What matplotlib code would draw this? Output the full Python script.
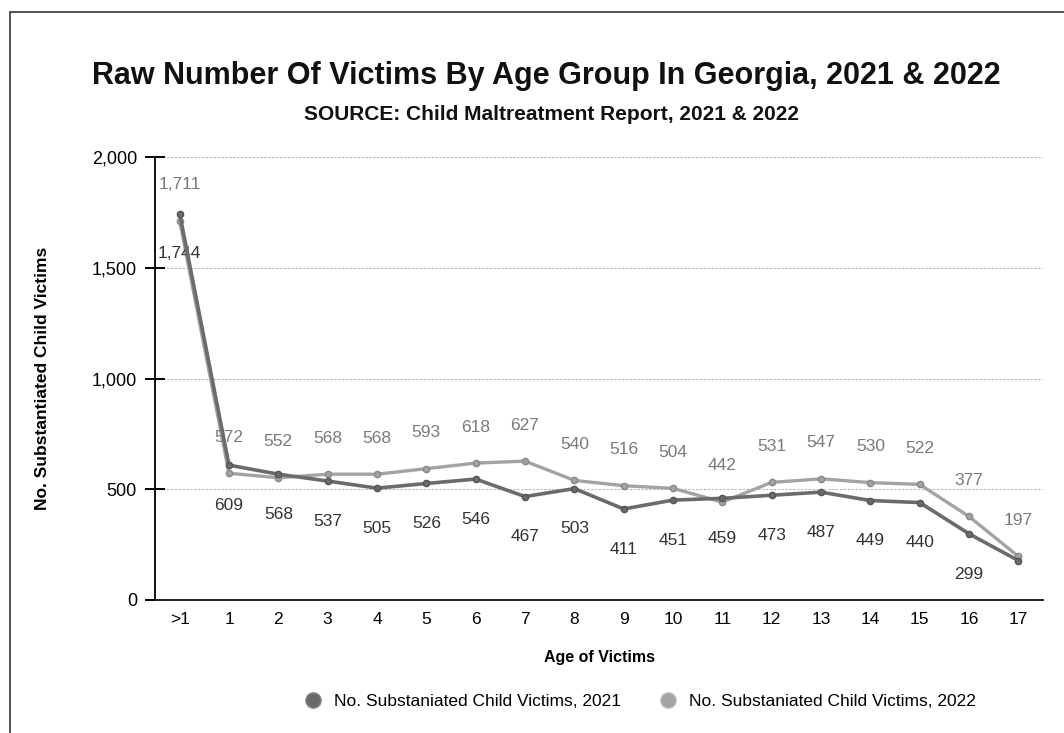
import matplotlib.pyplot as plt
from matplotlib.patches import Rectangle

plt.rcParams['font.family'] = ['Liberation Sans', 'DejaVu Sans']

# ------------------------------------------------------------------
# Data: substantiated child victims by age, Georgia
# ------------------------------------------------------------------
ages = ['>1', '1', '2', '3', '4', '5', '6', '7', '8', '9', '10',
        '11', '12', '13', '14', '15', '16', '17']
victims_2021 = [1744, 609, 568, 537, 505, 526, 546, 467, 503, 411, 451,
                459, 473, 487, 449, 440, 299, 178]
victims_2022 = [1711, 572, 552, 568, 568, 593, 618, 627, 540, 516, 504,
                442, 531, 547, 530, 522, 377, 197]
# the 2021 value at age 17 has no printed label in the source
show_2021_label = [True] * 17 + [False]

c21 = '#6b6b6b'
c22 = '#a3a3a3'

# ------------------------------------------------------------------
# Figure layout
# ------------------------------------------------------------------
fig = plt.figure(figsize=(10.64, 7.33), dpi=100)
ax = fig.add_axes([155 / 1064, 1 - 600 / 733, (1043 - 155) / 1064, (600 - 157) / 733])

# scanned page frame
fig.patches.append(Rectangle((10 / 1064, -0.1), 1.2, 1 - 12 / 733 + 0.1,
                             transform=fig.transFigure, fill=False,
                             edgecolor='#333333', linewidth=1.2))

x = list(range(len(ages)))
ax.plot(x, victims_2022, color=c22, lw=2.4, marker='o', ms=4.5,
        mfc=c22, mec='#888888', zorder=3)
ax.plot(x, victims_2021, color=c21, lw=2.6, marker='o', ms=4.5,
        mfc=c21, mec='#555555', zorder=4)

for xi, v in zip(x, victims_2022):
    ax.annotate(f'{v:,}', (xi, v), xytext=(0, 26), textcoords='offset points',
                ha='center', va='center', fontsize=12.5, color='#7a7a7a')
for xi, v, show in zip(x, victims_2021, show_2021_label):
    if show:
        ax.annotate(f'{v:,}', (xi, v), xytext=(0, -29), textcoords='offset points',
                    ha='center', va='center', fontsize=12.5, color='#333333')

# ------ Axes styling --------
ax.set_xlim(-0.5, len(ages) - 0.5)
ax.set_ylim(0, 2000)
ax.set_xticks(x)
ax.set_xticklabels(ages)
ax.set_yticks([0, 500, 1000, 1500, 2000])
ax.set_yticklabels(['0', '500', '1,000', '1,500', '2,000'])
ax.yaxis.grid(True, color='#b5b5b5', linestyle=(0, (2, 1.5)), linewidth=0.8)
ax.set_axisbelow(True)
for side in ['top', 'right']:
    ax.spines[side].set_visible(False)
ax.spines['left'].set_color('#111111')
ax.spines['left'].set_linewidth(1.4)
ax.spines['bottom'].set_color('#222222')
ax.spines['bottom'].set_linewidth(1.4)
ax.tick_params(axis='y', labelsize=13, length=14, width=1.4, direction='inout', pad=6)
ax.tick_params(axis='x', labelsize=12.5, length=0, pad=9)

ax.set_xlabel('Age of Victims', fontsize=11.5, fontweight='bold', labelpad=16)
ax.set_ylabel('No. Substantiated Child Victims', fontsize=12.5, fontweight='bold', labelpad=30)

# ------ Titles --------
fig.text(546 / 1064, 1 - 76 / 733, 'Raw Number Of Victims By Age Group In Georgia, 2021 & 2022',
         ha='center', va='center', fontsize=22, fontweight='bold', color='#111111')
fig.text(551 / 1064, 1 - 115 / 733, 'SOURCE: Child Maltreatment Report, 2021 & 2022',
         ha='center', va='center', fontsize=15, fontweight='bold', color='#111111')

# ------ Legend --------
leg = fig.legend(handles=[
    plt.Line2D([], [], ls='none', marker='o', ms=11, mfc=c21, mec='#888888',
               label='No. Substaniated Child Victims, 2021'),
    plt.Line2D([], [], ls='none', marker='o', ms=11, mfc=c22, mec='#bbbbbb',
               label='No. Substaniated Child Victims, 2022')],
    loc='center', bbox_to_anchor=(636 / 1064, 1 - 701 / 733), ncol=2, frameon=False,
    fontsize=12.5, handletextpad=0.2, columnspacing=1.7)

fig.savefig('out.png', dpi=100)
